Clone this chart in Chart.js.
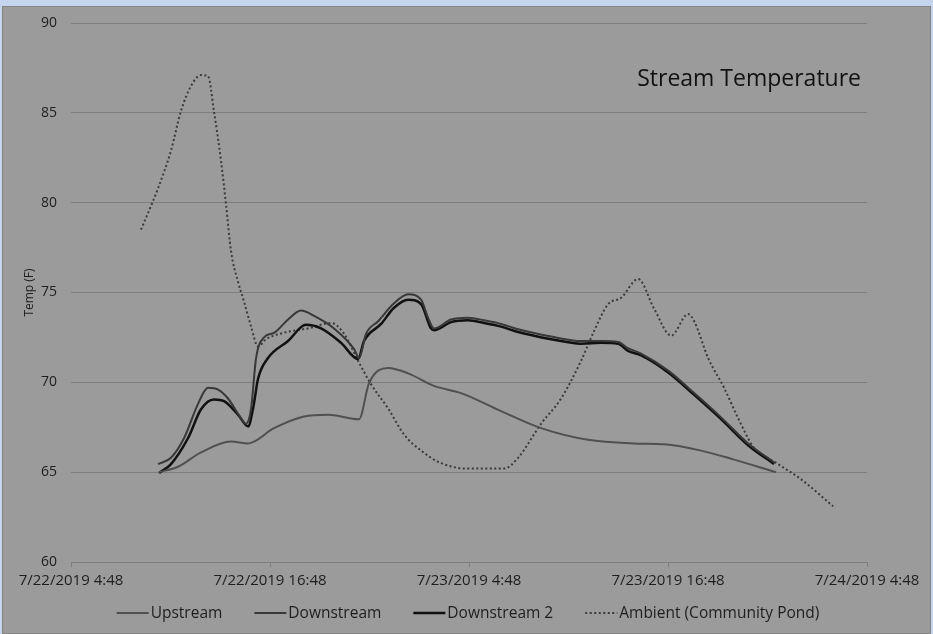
<!DOCTYPE html>
<html>
<head>
<meta charset="utf-8">
<script src="https://cdn.jsdelivr.net/npm/chart.js@4.4.1/dist/chart.umd.min.js"></script>
<style>
  html, body { margin: 0; padding: 0; background: #c6d5ee; }
  #frame {
    position: absolute; left: 2px; top: 6px; width: 927px; height: 626px;
    background: #9b9b9b; border: 1px solid #858585;
  }
  canvas { display: block; }
</style>
</head>
<body>
<div id="frame"><canvas id="chart" width="927" height="626"></canvas></div>
<script>
// hours after 7/22/2019 4:48
const xTickLabels = ['7/22/2019 4:48', '7/22/2019 16:48', '7/23/2019 4:48', '7/23/2019 16:48', '7/24/2019 4:48'];

const upstreamHours = [5.31, 6.45, 7.84, 9.65, 10.68, 12.24, 14.05, 15.50, 17.37, 17.97, 19.12, 20.33, 21.89, 23.52, 25.93, 28.35, 31.18, 33.96, 35.77, 38.00, 39.99, 42.52];
const upstreamTemp = [65.0, 65.3, 66.1, 66.7, 66.6, 67.45, 68.1, 68.2, 67.95, 69.95, 70.8, 70.5, 69.8, 69.4, 68.4, 67.45, 66.8, 66.6, 66.55, 66.2, 65.7, 65.0];

const downstreamHours = [5.25, 6.03, 6.82, 7.66, 8.26, 8.87, 9.47, 10.25, 10.55, 10.86, 11.16, 11.64, 12.24, 13.09, 13.87, 14.66, 15.86, 17.07, 17.37, 17.79, 18.52, 19.48, 20.33, 21.11, 21.53, 21.89, 22.92, 23.94, 24.91, 25.93, 26.96, 28.95, 30.76, 31.97, 32.99, 33.59, 34.38, 36.01, 37.58, 39.20, 40.83, 42.40];
const downstreamTemp = [65.45, 65.8, 66.9, 68.8, 69.7, 69.6, 69.1, 68.0, 67.7, 68.55, 71.35, 72.5, 72.75, 73.5, 74.0, 73.7, 73.0, 71.85, 71.35, 72.7, 73.4, 74.4, 74.9, 74.6, 73.6, 73.0, 73.5, 73.6, 73.45, 73.25, 72.95, 72.55, 72.3, 72.3, 72.25, 71.9, 71.6, 70.65, 69.4, 68.05, 66.6, 65.55];

const downstream2Hours = [5.31, 6.03, 7.06, 7.84, 8.62, 9.23, 10.07, 10.68, 10.98, 11.28, 11.88, 13.09, 14.17, 15.08, 16.28, 17.31, 17.67, 18.70, 19.48, 20.33, 21.11, 21.71, 21.89, 22.92, 23.94, 24.91, 25.93, 26.96, 28.95, 30.76, 31.97, 32.99, 33.59, 34.38, 36.01, 37.58, 39.20, 40.83, 42.40];
const downstream2Temp = [64.95, 65.45, 66.9, 68.5, 69.05, 68.95, 68.2, 67.55, 68.55, 70.2, 71.35, 72.3, 73.2, 73.0, 72.2, 71.3, 72.3, 73.25, 74.15, 74.6, 74.35, 73.0, 72.9, 73.35, 73.45, 73.3, 73.1, 72.8, 72.4, 72.15, 72.2, 72.15, 71.75, 71.5, 70.55, 69.3, 67.95, 66.5, 65.45];

const ambientHours = [4.22, 4.95, 5.25, 6.03, 6.63, 7.24, 7.84, 8.26, 8.62, 9.05, 9.35, 9.65, 10.07, 10.43, 10.86, 11.28, 11.76, 12.24, 13.27, 14.29, 15.68, 16.47, 17.31, 18.09, 19.12, 20.08, 21.11, 22.32, 23.94, 25.33, 26.12, 26.96, 28.35, 29.55, 30.76, 31.54, 32.39, 33.17, 34.20, 35.16, 36.19, 37.21, 37.58, 38.42, 39.38, 40.23, 41.19, 42.64, 44.03, 45.96];
const ambientTemp = [78.5, 80.1, 80.8, 82.9, 85.1, 86.5, 87.1, 87.05, 85.1, 82.3, 79.9, 77.3, 75.6, 74.5, 73.1, 72.0, 72.4, 72.6, 72.85, 73.0, 73.3, 72.7, 71.2, 69.9, 68.55, 67.1, 66.2, 65.5, 65.2, 65.2, 65.2, 65.8, 67.7, 69.1, 71.2, 72.85, 74.35, 74.7, 75.75, 74.1, 72.6, 73.8, 73.4, 71.35, 69.7, 68.0, 66.35, 65.45, 64.6, 63.1];

function toPoints(hours, temps) {
    return hours.map(function (h, i) { return { x: h, y: temps[i] }; });
}

const FONT = "'Open Sans', sans-serif";

// chart title sits inside the plot area, top right
const titlePlugin = {
    id: 'insideTitle',
    afterDraw: function (chart) {
        const ctx = chart.ctx;
        ctx.save();
        ctx.font = '23px ' + FONT;
        ctx.fillStyle = '#111';
        ctx.textAlign = 'right';
        ctx.textBaseline = 'alphabetic';
        ctx.fillText('Stream Temperature', 858, 79);
        ctx.restore();
    }
};

// Excel style legend: short line sample right before the label
const legendPlugin = {
    id: 'lineLegend',
    afterDraw: function (chart) {
        const ctx = chart.ctx;
        const sets = chart.data.datasets;
        const lineLen = 32, textGap = 2, itemGap = 32, y = 606;
        ctx.save();
        ctx.font = '15.5px ' + FONT;
        let total = 0;
        sets.forEach(function (ds, i) {
            total += lineLen + textGap + ctx.measureText(ds.label).width;
            if (i > 0) total += itemGap;
        });
        let x = 465 - total / 2;
        sets.forEach(function (ds) {
            ctx.beginPath();
            ctx.setLineDash(ds.borderDash || []);
            ctx.strokeStyle = ds.borderColor;
            ctx.lineWidth = ds.borderWidth;
            ctx.moveTo(x, y);
            ctx.lineTo(x + lineLen, y);
            ctx.stroke();
            ctx.setLineDash([]);
            x += lineLen + textGap;
            ctx.fillStyle = '#1e1e1e';
            ctx.textBaseline = 'middle';
            ctx.fillText(ds.label, x, y + 1);
            x += ctx.measureText(ds.label).width + itemGap;
        });
        ctx.restore();
    }
};

const lineBase = { pointRadius: 0, fill: false, cubicInterpolationMode: 'monotone' };

new Chart(document.getElementById('chart').getContext('2d'), {
    type: 'line',
    data: {
        datasets: [
            Object.assign({ label: 'Upstream', data: toPoints(upstreamHours, upstreamTemp),
                borderColor: '#505050', borderWidth: 2 }, lineBase),
            Object.assign({ label: 'Downstream', data: toPoints(downstreamHours, downstreamTemp),
                borderColor: '#383838', borderWidth: 2 }, lineBase),
            Object.assign({ label: 'Downstream 2', data: toPoints(downstream2Hours, downstream2Temp),
                borderColor: '#111111', borderWidth: 2.5 }, lineBase),
            Object.assign({ label: 'Ambient (Community Pond)', data: toPoints(ambientHours, ambientTemp),
                borderColor: '#3a3a3a', borderWidth: 2, borderDash: [2, 2.5] }, lineBase)
        ]
    },
    options: {
        responsive: false,
        animation: false,
        layout: { padding: { top: 16, right: 63, bottom: 38, left: 0 } },
        plugins: {
            title: { display: false },
            tooltip: { enabled: false },
            legend: { display: false }
        },
        scales: {
            x: {
                type: 'linear',
                min: 0,
                max: 48,
                ticks: {
                    stepSize: 12,
                    font: { family: FONT, size: 15 },
                    color: '#1e1e1e',
                    padding: 5,
                    maxRotation: 0,
                    callback: function (v) { return xTickLabels[v / 12]; }
                },
                grid: { color: 'transparent', tickColor: '#7e7e7e', tickLength: 5 },
                border: { display: true, color: '#7e7e7e' }
            },
            y: {
                min: 60,
                max: 90,
                afterFit: function (scale) {
                    scale.width = 68;
                    scale.paddingTop = 0;
                    scale.paddingBottom = 0;
                },
                ticks: {
                    stepSize: 5,
                    font: { family: FONT, size: 14 },
                    color: '#1e1e1e',
                    padding: 14
                },
                title: {
                    display: true,
                    text: 'Temp (F)',
                    font: { family: FONT, size: 12 },
                    color: '#1e1e1e',
                    padding: { top: 19, bottom: 0 }
                },
                grid: { color: '#7e7e7e', drawTicks: false },
                border: { display: false }
            }
        }
    },
    plugins: [titlePlugin, legendPlugin]
});
</script>
</body>
</html>
